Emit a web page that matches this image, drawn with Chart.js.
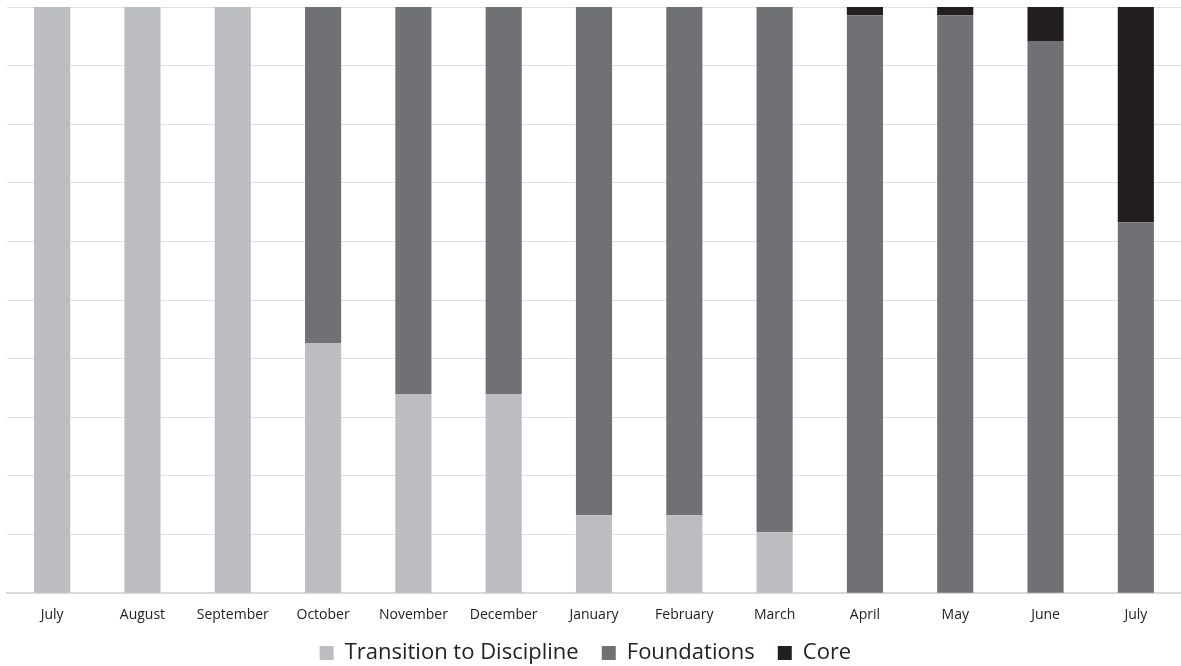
<!DOCTYPE html>
<html lang="en">
<head>
    <meta charset="UTF-8">
    <title>Curriculum phases</title>
    <script src="https://cdn.jsdelivr.net/npm/chart.js"></script>
    <style>
        html, body {
            margin: 0;
            padding: 0;
            background: #fff;
        }
        .chart-container {
            width: 1181px;
            height: 666px;
        }
    </style>
</head>
<body>
    <div class="chart-container">
        <canvas id="phaseChart"></canvas>
    </div>

    <script>
        const months = ['July', 'August', 'September', 'October', 'November', 'December',
            'January', 'February', 'March', 'April', 'May', 'June', 'July'];
        const transition = [100, 100, 100, 42.7, 34, 34, 13.3, 13.3, 10.4, 0, 0, 0, 0];
        const foundations = [0, 0, 0, 57.3, 66, 66, 86.7, 86.7, 89.6, 98.6, 98.6, 94.2, 63.3];
        const core = [0, 0, 0, 0, 0, 0, 0, 0, 0, 1.4, 1.4, 5.8, 36.7];

        const font = "'Open Sans', 'Noto Sans', sans-serif";

        function dataset(label, values, color) {
            return {
                label: label,
                data: values,
                backgroundColor: color,
                borderWidth: 0,
                barPercentage: 0.4,
                categoryPercentage: 1
            };
        }

        // nudge the legend a bit lower than chart.js puts it
        const legendShift = {
            id: 'legendShift',
            afterLayout(chart) {
                chart.legend.top += 8;
                chart.legend.bottom += 8;
            }
        };

        const ctx = document.getElementById('phaseChart').getContext('2d');
        new Chart(ctx, {
            type: 'bar',
            data: {
                labels: months,
                datasets: [
                    dataset('Transition to Discipline', transition, '#bcbdc0'),
                    dataset('Foundations', foundations, '#707175'),
                    dataset('Core', core, '#231f20')
                ]
            },
            plugins: [legendShift],
            options: {
                responsive: true,
                maintainAspectRatio: false,
                animation: false,
                layout: {
                    padding: { top: 7, left: 7, right: 0, bottom: 0 }
                },
                plugins: {
                    legend: {
                        position: 'bottom',
                        labels: {
                            color: '#222',
                            boxWidth: 14,
                            boxHeight: 14,
                            padding: 6,
                            font: { family: font, size: 22 },
                            generateLabels: chart => chart.data.datasets.map((ds, i) => ({
                                text: ds.label + '   ',
                                fillStyle: ds.backgroundColor,
                                strokeStyle: ds.backgroundColor,
                                lineWidth: 0,
                                fontColor: '#222',
                                datasetIndex: i
                            }))
                        }
                    },
                    tooltip: { enabled: false }
                },
                scales: {
                    x: {
                        stacked: true,
                        grid: { display: false },
                        border: { color: '#d9d9d9', width: 2 },
                        ticks: {
                            color: '#222',
                            padding: 5,
                            maxRotation: 0,
                            font: { family: font, size: 14 }
                        }
                    },
                    y: {
                        stacked: true,
                        min: 0,
                        max: 100,
                        grid: { color: '#e0e0e0', drawTicks: false },
                        border: { display: false },
                        ticks: { display: false, stepSize: 10 }
                    }
                }
            }
        });
    </script>
</body>
</html>
